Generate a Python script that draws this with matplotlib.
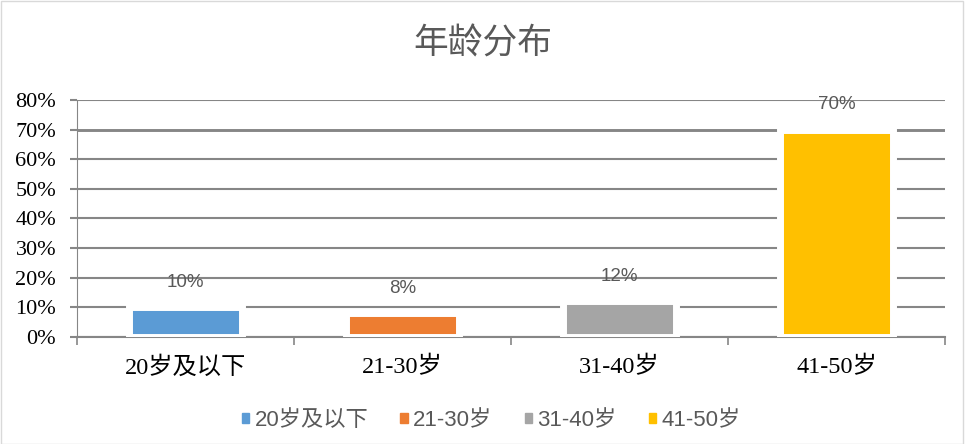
import matplotlib.pyplot as plt
from matplotlib.patches import Patch

plt.rcParams['font.family'] = ['Liberation Serif', 'Noto Sans CJK SC', 'DejaVu Sans']

categories = ["20岁及以下", "21-30岁", "31-40岁", "41-50岁"]
shares = [0.10, 0.08, 0.12, 0.70]
labels = ["10%", "8%", "12%", "70%"]
colors = ["#5B9BD5", "#ED7D31", "#A5A5A5", "#FFC000"]
yticks = [0, 0.1, 0.2, 0.3, 0.4, 0.5, 0.6, 0.7, 0.8]

sans = ["Liberation Sans", "Noto Sans CJK SC", "DejaVu Sans"]

fig = plt.figure(figsize=(9.65, 4.44), dpi=100)
ax = fig.add_axes([0.0798, 0.241, 0.8995, 0.534])

x = range(len(categories))
ax.bar(x, shares, width=0.52, color=colors, edgecolor="white", linewidth=5, zorder=3)
for i, (v, t) in enumerate(zip(shares, labels)):
    ax.annotate(t, (i, v), xytext=(0, 12), textcoords="offset points",
                ha="center", va="bottom", fontsize=13.5, color="#595959",
                family=sans, zorder=4)

ax.set_xlim(-0.5, len(categories) - 0.5)
ax.set_ylim(0, 0.8)
ax.set_yticks(yticks)
ax.set_yticklabels([f"{int(round(v * 100))}%" for v in yticks], fontsize=16)
ax.set_xticks(x)
ax.set_xticklabels(categories, fontsize=17.5)
ax.set_xticks([-0.5, 0.5, 1.5, 2.5, 3.5], minor=True)
ax.tick_params(axis="x", which="major", length=0, pad=14)
ax.tick_params(axis="x", which="minor", length=6, color="#868686", width=1.2)
ax.tick_params(axis="y", length=5, color="#868686", width=1.5, pad=10)

ax.grid(axis="y", color="#868686", linewidth=1.5, zorder=1)
ax.get_ygridlines()[7].set_linewidth(2.1)
for s in ["top", "right"]:
    ax.spines[s].set_visible(False)
ax.spines["left"].set_color("#868686")
ax.spines["bottom"].set_color("#868686")
ax.spines["bottom"].set_linewidth(1.5)

fig.text(0.5, 0.90, "年龄分布", ha="center", va="center", fontsize=25,
         color="#595959", family=["Noto Sans CJK SC", "DejaVu Sans"])

handles = [Patch(color=c) for c in colors]
fig.legend(handles, categories, loc="center", bbox_to_anchor=(0.509, 0.052), ncol=4,
           frameon=False, prop={"family": sans, "size": 16},
           handlelength=0.32, handleheight=0.32,
           handletextpad=0.25, columnspacing=1.45, labelcolor="#595959")

fig.patches.append(plt.Rectangle((0.001, 0.001), 0.997, 0.997, transform=fig.transFigure,
                                 fill=False, edgecolor="#D9D9D9", linewidth=1))

fig.savefig("out.png", dpi=100)
